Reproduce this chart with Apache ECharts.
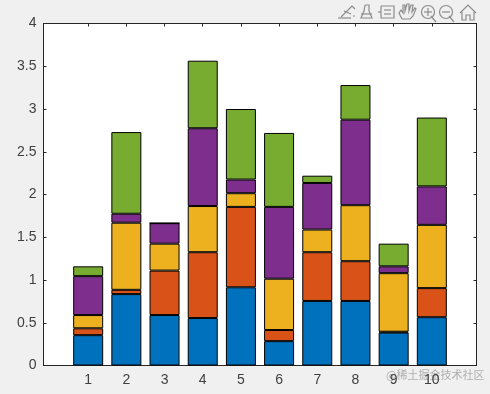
<!DOCTYPE html>
<html><head><meta charset="utf-8">
<style>html,body{margin:0;padding:0;background:#f0f0f0}#c{width:490px;height:394px}</style>
<script src="https://cdn.jsdelivr.net/npm/echarts@6/dist/echarts.min.js"></script>
</head><body><div id="c"></div>
<script>
const categories=[1,2,3,4,5,6,7,8,9,10];
const blue=[0.355,0.835,0.59,0.555,0.915,0.285,0.755,0.755,0.385,0.565];
const orange=[0.08,0.05,0.52,0.77,0.94,0.13,0.57,0.465,0.01,0.34];
const yellow=[0.155,0.785,0.315,0.54,0.16,0.60,0.265,0.655,0.685,0.74];
const purple=[0.455,0.105,0.24,0.91,0.16,0.84,0.545,1.00,0.08,0.45];
const green=[0.115,0.955,0,0.79,0.825,0.865,0.085,0.405,0.265,0.805];
const seriesList=[[blue,'#0072bd'],[orange,'#d95319'],[yellow,'#edb120'],[purple,'#7e2f8e'],[green,'#77ac30']];
const chart=echarts.init(document.getElementById('c'),null,{renderer:'canvas'});
const ax='#262626',tc='#404040';
const xBase={type:'value',min:-0.17,max:11.17,splitLine:{show:false},
  axisLine:{show:true,onZero:false,lineStyle:{color:ax,width:1}},
  axisTick:{show:true,inside:true,length:3,customValues:categories,lineStyle:{color:ax}}};
const yBase={type:'value',min:0,max:4,interval:0.5,splitLine:{show:false},
  axisLine:{show:true,onZero:false,lineStyle:{color:ax,width:1}},
  axisTick:{show:true,inside:true,length:3,lineStyle:{color:ax}}};
const iconStyle={stroke:'#8c8c8c',fill:'none',lineWidth:1.2};
const icons=[
 [[341,17],[352,6],[355,9]],[[338,18],[351,18]],[[344,11],[351,14]],[[353,16],[355,16]],
 [[365,5],[369,5],[369,11],[372,18],[361,18],[364,11],[365,5]],[[361,14],[372,14]],
 [[381,6],[394,6],[394,18],[381,18],[381,6]],[[384,10],[391,10]],[[384,14],[391,14]],[[381,12],[378,12]],
 [[402,19],[399,13],[401,10],[403,13],[403,5],[405,5],[405,11],[407,4],[409,4],[409,11],[411,5],[413,5],[412,12],[415,8],[416,9],[413,16],[410,19],[402,19]],
 [[431,16],[436,22]],[[449,16],[454,22]],
 [[460,13],[468,5],[476,13]],[[462,12],[462,20],[466,20],[466,15],[470,15],[470,20],[474,20],[474,12]],
 [[424,12],[432,12]],[[428,8],[428,16]],[[442,12],[450,12]]
];
chart.setOption({
 animation:false,backgroundColor:'#f0f0f0',
 textStyle:{fontFamily:'"Liberation Sans",Arial,sans-serif'},
 grid:{show:true,backgroundColor:'#fff',borderWidth:0,left:43.5,top:23.5,width:433,height:342},
 xAxis:[
  Object.assign({},xBase,{position:'bottom',axisLabel:{show:true,customValues:categories,color:tc,fontSize:14,margin:8,formatter:v=>String(v)}}),
  Object.assign({},xBase,{position:'top',axisLabel:{show:false}})
 ],
 yAxis:[
  Object.assign({},yBase,{position:'left',axisLabel:{show:true,color:tc,fontSize:14,margin:7,formatter:v=>String(v)}}),
  Object.assign({},yBase,{position:'right',axisLabel:{show:false}})
 ],
 series:seriesList.map(([vals,color])=>({
  type:'bar',stack:'s',xAxisIndex:0,yAxisIndex:0,barWidth:30,
  dimensions:[{name:'v',type:'number'},{name:'c',type:'number'}],
  encode:{x:'c',y:'v'},
  data:vals.map((v,k)=>[v,categories[k]]),
  itemStyle:{color,borderColor:'#000',borderWidth:1},
  silent:true
 })),
 graphic:[
  ...icons.map(p=>({type:'polyline',shape:{points:p},style:iconStyle,silent:true})),
  {type:'circle',shape:{cx:428,cy:12,r:6.5},style:iconStyle,silent:true},
  {type:'circle',shape:{cx:446,cy:12,r:6.5},style:iconStyle,silent:true},
  {type:'text',left:386,top:369,silent:true,style:{text:'@稀土掘金技术社区',fill:'rgba(130,130,130,0.6)',fontSize:11,fontFamily:'"Noto Sans CJK SC",sans-serif'}}
 ]
});
</script></body></html>
